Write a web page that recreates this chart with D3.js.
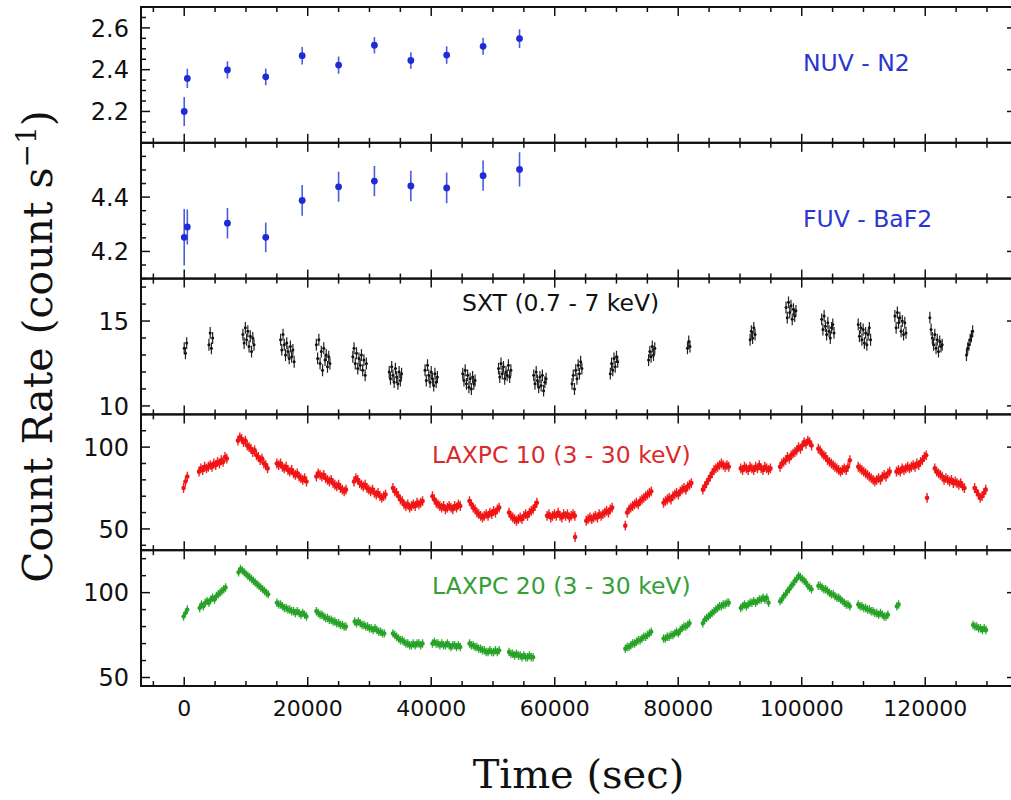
<!DOCTYPE html>
<html>
<head>
<meta charset="utf-8">
<script src="https://cdn.jsdelivr.net/npm/d3@7"></script>
<style>
  html, body { margin: 0; padding: 0; background: #fff; }
  svg { display: block; }
</style>
</head>
<body>
<svg id="chart" width="1011" height="800"></svg>
<script>
// ---------- shared time axis ----------
const timeDomain = [-7000, 134700];
const timeTicks = [0, 20000, 40000, 60000, 80000, 100000, 120000];
const timeMinorStep = 5000;

// ---------- panel axes ----------
const panelNames = ["NUV - N2", "FUV - BaF2", "SXT (0.7 - 7 keV)", "LAXPC 10 (3 - 30 keV)", "LAXPC 20 (3 - 30 keV)"];
const yDomains = [[2.05, 2.7], [4.1, 4.6], [9.5, 17.5], [37, 120], [45, 125]];
const yMajorTicks = [[2.2, 2.4, 2.6], [4.2, 4.4], [10, 15], [50, 100], [50, 100]];
const yMinorSteps = [0.05, 0.05, 1, 10, 10];

// ---------- UVIT NUV (N2) ----------
const nuvTime = [0, 500, 7000, 13200, 19100, 25000, 30800, 36700, 42500, 48400, 54300];
const nuvRate = [2.200, 2.358, 2.399, 2.366, 2.467, 2.422, 2.517, 2.444, 2.470, 2.512, 2.549];
const nuvErr  = [0.069, 0.046, 0.041, 0.040, 0.042, 0.041, 0.039, 0.040, 0.042, 0.041, 0.045];

// ---------- UVIT FUV (BaF2) ----------
const fuvTime = [0, 500, 7000, 13200, 19100, 25000, 30800, 36700, 42500, 48400, 54300];
const fuvRate = [4.252, 4.290, 4.304, 4.252, 4.388, 4.438, 4.459, 4.441, 4.434, 4.479, 4.502];
const fuvErr  = [0.104, 0.064, 0.056, 0.055, 0.057, 0.055, 0.056, 0.056, 0.057, 0.056, 0.063];

// ---------- SXT, one row per orbit (200 s bins) ----------
const sxtBin = 200;
const sxtErr = 0.35;
const sxtStart = [0, 4000, 9500, 15600, 21400, 27300, 33200, 39000, 45100, 50900, 56600,
                  62800, 69000, 75200, 81500, 91640, 97460, 103230, 109150, 115090, 120750, 126680];
const sxtRate = [
  [13.4, 13.1, 13.7],
  [13.6, 14.3, 13.4, 14.0],
  [14.2, 13.7, 14.6, 13.9, 14.4, 13.5, 14.1, 13.2, 14.0, 13.6],
  [13.9, 13.3, 14.2, 13.6, 13.0, 13.7, 13.2, 12.8, 13.5, 12.9, 13.3, 12.6],
  [13.6, 12.8, 13.9, 12.5, 13.2, 12.1, 13.4, 12.7, 13.0, 12.3, 12.9, 12.5],
  [12.9, 13.4, 12.5, 13.1, 12.2, 12.8, 12.4, 13.0, 12.1, 12.7, 11.8, 12.5],
  [12.0, 11.6, 12.3, 11.8, 11.4, 12.2, 11.7, 11.3, 12.0, 11.5, 11.9],
  [12.1, 11.5, 12.4, 11.8, 11.4, 12.0, 11.6, 11.2, 11.9, 11.4, 11.7],
  [11.9, 11.5, 12.1, 11.3, 11.8, 11.1, 11.6, 11.0, 11.7, 11.3, 11.5],
  [12.2, 11.7, 12.5, 11.9, 12.3, 11.6, 12.0, 11.8, 12.4, 11.7, 12.1],
  [11.8, 11.3, 12.0, 11.5, 11.1, 11.7, 11.2, 11.8, 10.9, 11.4, 11.6],
  [11.3, 11.8, 11.0, 12.1, 11.6, 12.4, 11.9, 12.6, 12.2],
  [11.9, 12.5, 12.1, 12.8, 12.3, 12.9, 12.6],
  [12.7, 13.2, 12.9, 13.5, 13.0, 13.4],
  [13.4, 13.8, 13.5],
  [13.9, 14.4, 14.0, 14.6, 14.2],
  [15.8, 15.2, 16.1, 15.5, 15.9, 15.1, 15.7, 15.3, 15.6],
  [15.1, 14.5, 15.3, 14.7, 14.2, 14.9, 14.4, 14.0, 14.6, 14.8, 14.3],
  [14.8, 14.1, 14.6, 13.9, 14.5, 13.7, 14.3, 13.6, 14.2, 14.6, 13.9],
  [15.3, 14.6, 15.5, 14.9, 15.2, 14.4, 15.0, 14.2, 14.9, 14.3],
  [15.2, 14.5, 14.0, 13.6, 14.2, 13.4, 13.9, 13.2, 13.8, 13.5, 13.6],
  [13.0, 13.4, 13.6, 13.9, 14.1, 14.4]
];

// ---------- LAXPC 10, one row per orbit (300 s bins) ----------
const lx10Bin = 300;
const lx10Err = 3;
const lx10Start = [-100, 2400, 8700, 15000, 21400, 27500, 33800, 40200, 46200, 52600, 58760, 63300,
                   65100, 71430, 77630, 83990, 90130, 96490, 102690, 109150, 115350, 120300, 121550, 128000];
const lx10Rate = [
  [75, 79, 82],
  [85, 87, 86, 88, 87, 88, 89, 88, 90, 89, 91, 90, 92, 91, 94, 93],
  [104, 106, 105, 103, 104, 101, 100, 99, 97, 98, 95, 94, 92, 93, 90, 89, 87],
  [90, 89, 90, 88, 87, 88, 86, 85, 86, 84, 83, 84, 82, 81, 80, 81, 79],
  [82, 84, 83, 82, 83, 81, 80, 79, 80, 78, 77, 76, 77, 75, 74, 73, 74],
  [79, 81, 80, 78, 77, 76, 77, 75, 74, 73, 74, 72, 71, 72, 70, 69, 70, 71],
  [75, 73, 72, 70, 68, 67, 65, 64, 65, 63, 64, 65, 64, 66, 65, 66, 67],
  [70, 68, 66, 65, 64, 63, 64, 62, 63, 64, 63, 62, 64, 63, 65, 64],
  [67, 65, 63, 62, 60, 59, 58, 57, 58, 59, 58, 60, 59, 61, 60, 62, 63],
  [60, 58, 57, 56, 55, 56, 57, 56, 58, 59, 58, 60, 61, 62, 64, 66],
  [58, 59, 57, 58, 59, 58, 60, 58, 57, 59, 58, 59, 57, 58, 59, 58],
  [45],
  [55, 56, 57, 56, 57, 58, 57, 59, 58, 59, 60, 61, 60, 62, 63],
  [52, 60, 62, 63, 64, 65, 66, 65, 67, 68, 69, 70, 71, 72, 73],
  [66, 67, 68, 69, 68, 70, 71, 72, 71, 73, 74, 75, 74, 76, 77, 78],
  [74, 76, 78, 80, 82, 84, 86, 87, 88, 89, 90, 89, 88, 89, 88],
  [87, 86, 88, 87, 86, 88, 87, 86, 88, 87, 89, 87, 86, 88, 87, 86, 87],
  [88, 90, 91, 92, 94, 93, 95, 96, 97, 98, 100, 99, 101, 103, 102, 104, 103, 101],
  [99, 98, 96, 95, 94, 92, 91, 90, 89, 88, 87, 86, 85, 86, 87, 86, 88, 92],
  [88, 87, 86, 85, 84, 83, 82, 81, 80, 79, 80, 81, 80, 82, 83, 82, 84, 85],
  [85, 86, 85, 87, 86, 87, 88, 87, 88, 89, 88, 90, 89, 91, 92, 94, 95],
  [69],
  [87, 85, 84, 83, 82, 80, 81, 80, 79, 80, 78, 79, 78, 77, 78, 76, 75],
  [75, 73, 71, 69, 70, 72, 74]
];

// ---------- LAXPC 20, one row per orbit (300 s bins) ----------
const lx20Bin = 300;
const lx20Err = 2.5;
const lx20Start = [-100, 2500, 8800, 15000, 21400, 27600, 33800, 40200, 46200, 52600,
                   71430, 77630, 83990, 90130, 96490, 102690, 109150, 115400, 127750];
const lx20Rate = [
  [86, 88, 90],
  [91, 93, 92, 94, 95, 94, 96, 97, 96, 98, 99, 100, 101, 102, 103],
  [112, 114, 113, 112, 111, 110, 109, 108, 107, 106, 105, 104, 103, 102, 101, 100, 99],
  [94, 93, 93, 92, 91, 91, 90, 90, 89, 89, 88, 89, 88, 87, 88, 87, 86],
  [89, 88, 87, 87, 86, 85, 85, 84, 84, 83, 83, 82, 82, 81, 81, 80, 80],
  [83, 82, 83, 82, 81, 81, 80, 80, 79, 79, 78, 79, 78, 77, 77, 76, 76],
  [76, 75, 74, 73, 72, 72, 71, 70, 70, 69, 69, 70, 69, 70, 70, 69, 70],
  [70, 71, 70, 70, 69, 70, 69, 69, 70, 69, 68, 69, 69, 68, 69, 68],
  [70, 69, 69, 68, 68, 67, 67, 66, 66, 65, 65, 66, 65, 65, 66, 65, 66],
  [65, 64, 64, 63, 64, 63, 63, 62, 63, 62, 62, 63, 62, 62],
  [67, 68, 68, 69, 70, 70, 71, 72, 72, 73, 74, 74, 75, 76, 77],
  [73, 73, 74, 74, 75, 75, 76, 77, 76, 78, 79, 80, 80, 81, 82],
  [82, 84, 85, 86, 87, 88, 89, 90, 91, 92, 92, 93, 93, 94, 94],
  [91, 92, 93, 92, 93, 94, 94, 95, 94, 95, 96, 96, 97, 96, 97, 94],
  [95, 96, 98, 99, 101, 102, 104, 105, 107, 108, 110, 109, 108, 107, 106, 104, 103, 102],
  [104, 104, 103, 102, 102, 101, 100, 99, 99, 98, 97, 97, 96, 95, 94, 93, 93, 92],
  [93, 92, 92, 91, 91, 90, 90, 89, 89, 88, 88, 87, 88, 87, 86, 86, 87],
  [92, 93],
  [81, 80, 80, 79, 79, 78, 79, 78]
];

// ---------- helpers ----------
function binnedSeries(starts, rates, bin, err) {
  const out = [];
  starts.forEach((s, i) => rates[i].forEach((v, j) => out.push({ t: s + j * bin, v: v, e: err })));
  return out;
}
function pointSeries(times, rates, errs) {
  return times.map((t, i) => ({ t: t, v: rates[i], e: errs[i] }));
}
function stepTicks(d0, d1, step) {
  const out = [];
  const k0 = Math.ceil(d0 / step - 1e-9), k1 = Math.floor(d1 / step + 1e-9);
  for (let k = k0; k <= k1; k++) out.push(+(k * step).toFixed(6));
  return out;
}

const series = [
  pointSeries(nuvTime, nuvRate, nuvErr),
  pointSeries(fuvTime, fuvRate, fuvErr),
  binnedSeries(sxtStart, sxtRate, sxtBin, sxtErr),
  binnedSeries(lx10Start, lx10Rate, lx10Bin, lx10Err),
  binnedSeries(lx20Start, lx20Rate, lx20Bin, lx20Err)
];

// marker / label styling per panel
const styles = [
  { dot: "#1f2bd4", bar: "#4a5ce0", r: 3.4, bw: 1.6, label: "#2b36cf", lx: 803, ly: 64 },
  { dot: "#1f2bd4", bar: "#4a5ce0", r: 3.4, bw: 1.6, label: "#2b36cf", lx: 803, ly: 84 },
  { dot: "#111",    bar: "#222",    r: 1.5, bw: 1.2, label: "#111",    lx: 462, ly: 32 },
  { dot: "#f01515", bar: "#f02020", r: 2.3, bw: 1.4, label: "#d92b2b", lx: 432, ly: 49 },
  { dot: "#27a327", bar: "#2fa82f", r: 2.2, bw: 1.3, label: "#35a035", lx: 432, ly: 44 }
];

// ---------- layout ----------
const plotLeft = 141, plotRight = 1016, plotTop = 7, plotBottom = 686;
const panelH = (plotBottom - plotTop) / panelNames.length;
const plotW = plotRight - plotLeft;
const majorLen = 9, minorLen = 5;

const svg = d3.select("#chart");
const x = d3.scaleLinear().domain(timeDomain).range([0, plotW]);
const xMinor = stepTicks(timeDomain[0], timeDomain[1], timeMinorStep).filter(t => !timeTicks.includes(t));

svg.append("defs").append("clipPath").attr("id", "panelClip")
  .append("rect").attr("x", 0).attr("y", 0).attr("width", plotW).attr("height", panelH);

panelNames.forEach((name, p) => {
  const g = svg.append("g").attr("transform", `translate(${plotLeft},${plotTop + p * panelH})`);
  const y = d3.scaleLinear().domain(yDomains[p]).range([panelH, 0]);
  const st = styles[p];
  const pts = series[p];

  // data: error bars then markers
  const data = g.append("g").attr("clip-path", "url(#panelClip)");
  data.selectAll("line.err").data(pts).join("line")
    .attr("class", "err")
    .attr("x1", d => x(d.t)).attr("x2", d => x(d.t))
    .attr("y1", d => y(d.v - d.e)).attr("y2", d => y(d.v + d.e))
    .attr("stroke", st.bar).attr("stroke-width", st.bw);
  data.selectAll("circle").data(pts).join("circle")
    .attr("cx", d => x(d.t)).attr("cy", d => y(d.v)).attr("r", st.r)
    .attr("fill", st.dot);

  // panel title
  g.append("text").attr("x", st.lx - plotLeft).attr("y", st.ly)
    .attr("font-family", "DejaVu Sans, sans-serif").attr("font-size", 23.5)
    .attr("fill", st.label).text(name);

  // ticks (inward on all four sides)
  const tk = g.append("g").attr("stroke", "#111").attr("stroke-width", 1.5);
  const yMinor = stepTicks(yDomains[p][0], yDomains[p][1], yMinorSteps[p])
    .filter(v => !yMajorTicks[p].some(m => Math.abs(m - v) < 1e-6));
  const yt = [...yMajorTicks[p].map(v => ({ v, len: majorLen })), ...yMinor.map(v => ({ v, len: minorLen }))];
  tk.selectAll("line.yl").data(yt).join("line").attr("class", "yl")
    .attr("x1", 0).attr("x2", d => d.len).attr("y1", d => y(d.v)).attr("y2", d => y(d.v));
  tk.selectAll("line.yr").data(yt).join("line").attr("class", "yr")
    .attr("x1", plotW).attr("x2", d => plotW - d.len).attr("y1", d => y(d.v)).attr("y2", d => y(d.v));
  const xt = [...timeTicks.map(t => ({ t, len: majorLen })), ...xMinor.map(t => ({ t, len: minorLen }))];
  tk.selectAll("line.xt").data(xt).join("line").attr("class", "xt")
    .attr("x1", d => x(d.t)).attr("x2", d => x(d.t)).attr("y1", 0).attr("y2", d => d.len);
  tk.selectAll("line.xb").data(xt).join("line").attr("class", "xb")
    .attr("x1", d => x(d.t)).attr("x2", d => x(d.t)).attr("y1", panelH).attr("y2", d => panelH - d.len);

  // y tick labels
  g.selectAll("text.ylab").data(yMajorTicks[p]).join("text").attr("class", "ylab")
    .attr("x", -12).attr("y", d => y(d)).attr("dy", "0.36em")
    .attr("text-anchor", "end")
    .attr("font-family", "DejaVu Sans, sans-serif").attr("font-size", 24).attr("fill", "#111")
    .text(d => String(d));

  // frame
  g.append("rect").attr("x", 0).attr("y", 0).attr("width", plotW).attr("height", panelH)
    .attr("fill", "none").attr("stroke", "#111").attr("stroke-width", 2);

  // time labels under the last panel
  if (p === panelNames.length - 1) {
    g.selectAll("text.xlab").data(timeTicks).join("text").attr("class", "xlab")
      .attr("x", d => x(d)).attr("y", panelH + 30)
      .attr("text-anchor", "middle")
      .attr("font-family", "DejaVu Sans, sans-serif").attr("font-size", 22).attr("fill", "#111")
      .text(d => String(d));
  }
});

// axis titles
const yTitle = svg.append("text")
  .attr("transform", `translate(52,${(plotTop + plotBottom) / 2}) rotate(-90)`)
  .attr("text-anchor", "middle")
  .attr("font-family", "DejaVu Serif, serif").attr("font-size", 41).attr("fill", "#111");
yTitle.append("tspan").text("Count Rate (count s");
yTitle.append("tspan").attr("dy", -16).attr("font-size", 28).text("\u22121");
yTitle.append("tspan").attr("dy", 16).text(")");

svg.append("text")
  .attr("x", plotLeft + plotW / 2).attr("y", 788)
  .attr("text-anchor", "middle")
  .attr("font-family", "DejaVu Serif, serif").attr("font-size", 40).attr("fill", "#111")
  .text("Time (sec)");
</script>
</body>
</html>
